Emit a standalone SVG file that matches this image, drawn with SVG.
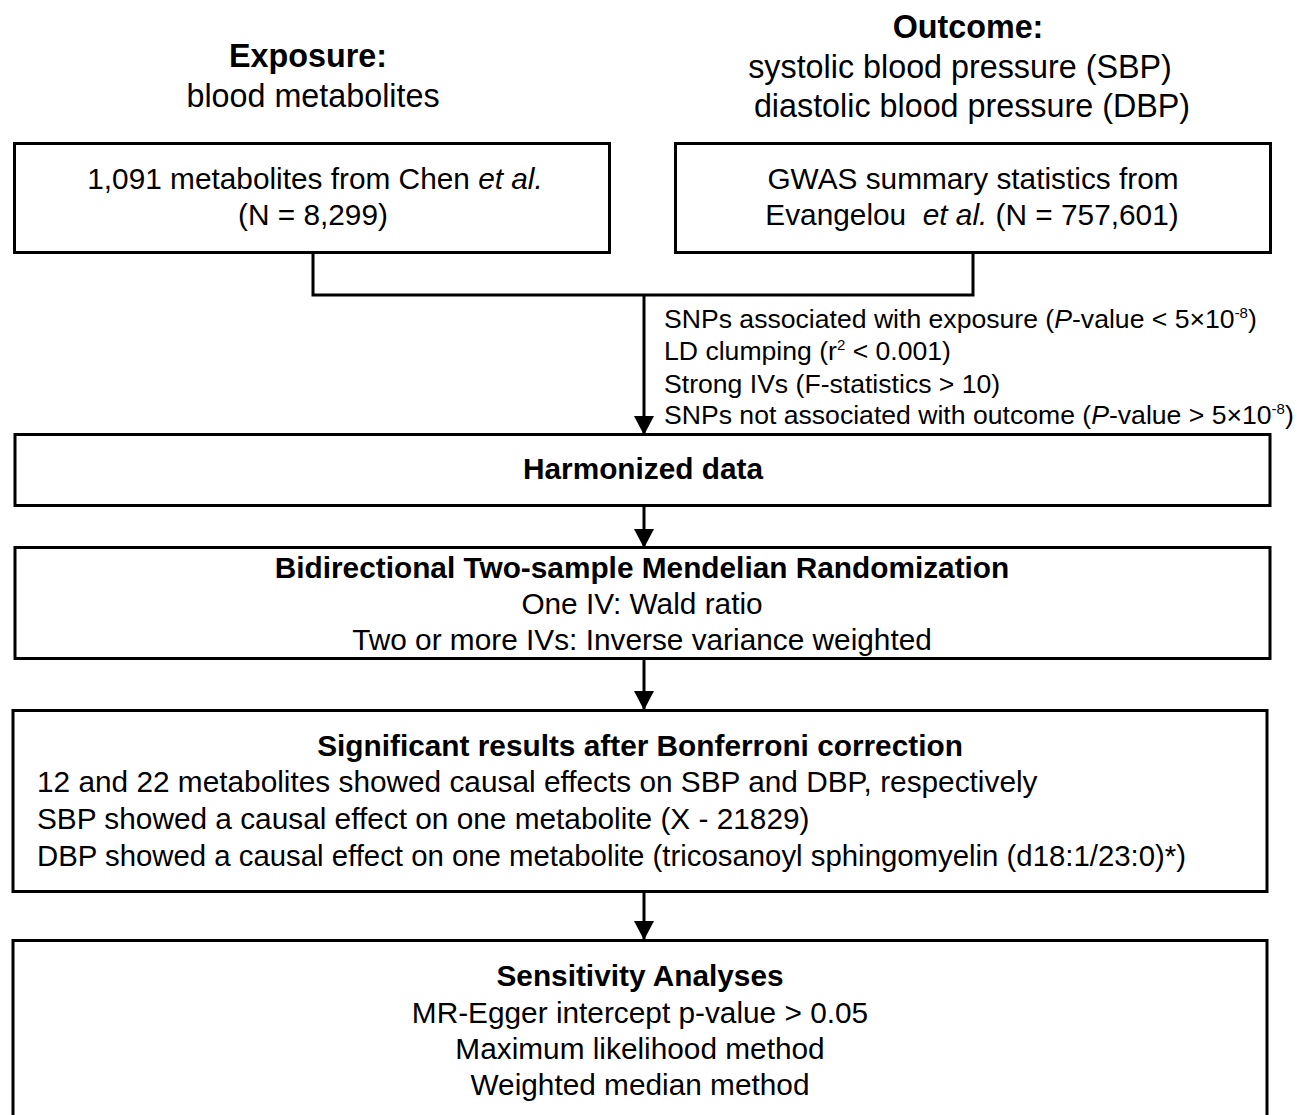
<svg xmlns="http://www.w3.org/2000/svg" width="1304" height="1115" viewBox="0 0 1304 1115">
<style>
text{font-family:"Liberation Sans",Arial,Helvetica,sans-serif;fill:#000;}
.t{font-size:29.8px;}
.b{font-weight:bold;}
.h{font-size:32.3px;}
.s{font-size:26.6px;}
.c{text-anchor:middle;}
.box{fill:#fff;stroke:#000;stroke-width:3;}
.ln{fill:none;stroke:#000;stroke-width:3;}
.sup{font-size:15px;}
</style>
<defs>
<marker id="ah" markerUnits="userSpaceOnUse" markerWidth="20" markerHeight="20" refX="18" refY="10" orient="auto" viewBox="0 0 20 20">
<path d="M0,0 L19,10 L0,20 Z" fill="#000"/>
</marker>
</defs>
<rect width="1304" height="1115" fill="#fff"/>
<g id="exposure-label">
<text class="h b c" x="308" y="67">Exposure:</text>
<text class="h c" x="313" y="107">blood metabolites</text>
</g>
<g id="outcome-label">
<text class="h b c" x="968" y="38">Outcome:</text>
<text class="h c" x="960" y="78">systolic blood pressure (SBP)</text>
<text class="h c" x="972" y="117">diastolic blood pressure (DBP)</text>
</g>
<g id="connectors">
<path class="ln" d="M313,252 V295 H973 V252"/>
<path class="ln" d="M644,295 V434" marker-end="url(#ah)"/>
<path class="ln" d="M644,505 V547" marker-end="url(#ah)"/>
<path class="ln" d="M644,659 V709" marker-end="url(#ah)"/>
<path class="ln" d="M644,891 V939" marker-end="url(#ah)"/>
<text class="s" x="664" y="328">SNPs associated with exposure (<tspan font-style="italic">P</tspan>-value &lt; 5×10<tspan class="sup" dy="-10">-8</tspan><tspan dy="10">)</tspan></text>
<text class="s" x="664" y="360">LD clumping (r<tspan class="sup" dy="-10">2</tspan><tspan dy="10"> &lt; 0.001)</tspan></text>
<text class="s" x="664" y="393">Strong IVs (F-statistics &gt; 10)</text>
<text class="s" x="664" y="424">SNPs not associated with outcome (<tspan font-style="italic">P</tspan>-value &gt; 5×10<tspan class="sup" dy="-10">-8</tspan><tspan dy="10">)</tspan></text>
</g>
<g id="exposure-data">
<rect class="box" x="14.5" y="143.5" width="595" height="109"/>
<text class="t c" x="315" y="189">1,091 metabolites from Chen <tspan font-style="italic">et al.</tspan></text>
<text class="t c" x="313" y="225">(N = 8,299)</text>
</g>
<g id="outcome-data">
<rect class="box" x="675.5" y="143.5" width="595" height="109"/>
<text class="t c" x="973" y="189">GWAS summary statistics from</text>
<text class="t c" x="972" y="225" xml:space="preserve">Evangelou  <tspan font-style="italic">et al.</tspan> (N = 757,601)</text>
</g>
<g id="harmonized">
<rect class="box" x="15" y="434.5" width="1255" height="71"/>
<text class="t b c" x="643" y="479">Harmonized data</text>
</g>
<g id="mr">
<rect class="box" x="15" y="547.5" width="1255" height="111"/>
<text class="t b c" x="642" y="578">Bidirectional Two-sample Mendelian Randomization</text>
<text class="t c" x="642" y="614">One IV: Wald ratio</text>
<text class="t c" x="642" y="650">Two or more IVs: Inverse variance weighted</text>
</g>
<g id="significant">
<rect class="box" x="13" y="710.5" width="1254" height="181"/>
<text class="t b c" x="640" y="756">Significant results after Bonferroni correction</text>
<text class="t" x="37" y="792">12 and 22 metabolites showed causal effects on SBP and DBP, respectively</text>
<text class="t" x="37" y="829">SBP showed a causal effect on one metabolite (X - 21829)</text>
<text class="t" x="37" y="866" textLength="1149" lengthAdjust="spacingAndGlyphs">DBP showed a causal effect on one metabolite (tricosanoyl sphingomyelin (d18:1/23:0)*)</text>
</g>
<g id="sensitivity">
<rect class="box" x="13" y="940.5" width="1254" height="200"/>
<text class="t b c" x="640" y="986">Sensitivity Analyses</text>
<text class="t c" x="640" y="1023">MR-Egger intercept p-value &gt; 0.05</text>
<text class="t c" x="640" y="1059">Maximum likelihood method</text>
<text class="t c" x="640" y="1095">Weighted median method</text>
</g>
</svg>
